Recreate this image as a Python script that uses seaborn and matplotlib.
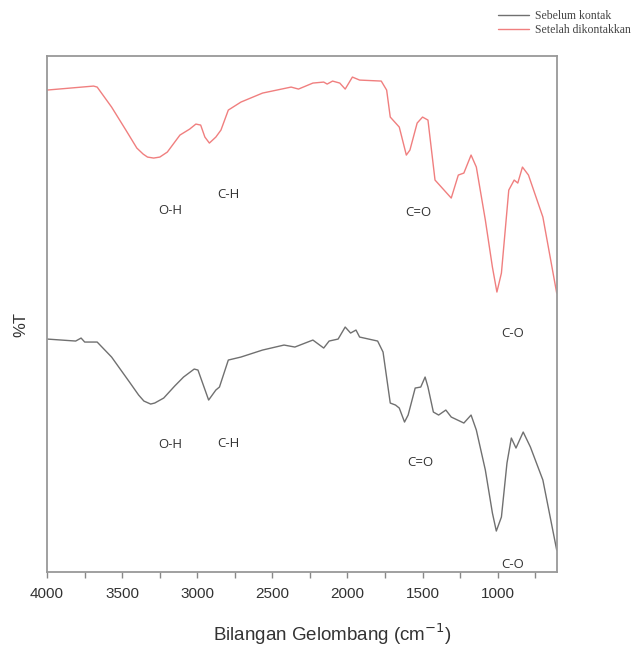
import numpy as np
import pandas as pd
import matplotlib
matplotlib.use("Agg")
import matplotlib.pyplot as plt
import seaborn as sns

# wavenumbers (cm-1) and %T (arbitrary offset units)
wn_after = [4000, 3690, 3666, 3570, 3475, 3402, 3360, 3331, 3290, 3249, 3199, 3115,
            3050, 3009, 2977, 2949, 2919, 2876, 2842, 2793, 2709, 2565, 2375, 2326,
            2230, 2158, 2135, 2099, 2051, 2015, 1967, 1919, 1775, 1739, 1715, 1655,
            1608, 1584, 1536, 1500, 1464, 1417, 1369, 1309, 1262, 1225, 1177, 1142,
            1082, 1035, 1005, 975, 926, 890, 866, 835, 795, 699, 607]
t_after = [482, 486, 485, 465, 442, 424, 418, 415, 414, 415, 420, 437,
           443, 448, 447, 435, 429, 435, 442, 462, 470, 479, 485, 483,
           489, 490, 488, 491, 489, 483, 495, 492, 491, 482, 455, 445,
           417, 422, 449, 455, 452, 392, 384, 374, 397, 399, 417, 405,
           352, 305, 280, 299, 382, 392, 389, 405, 397, 355, 279]

wn_before = [4000, 3809, 3773, 3749, 3666, 3570, 3451, 3390, 3355, 3310, 3283, 3223,
             3150, 3091, 3020, 2995, 2924, 2876, 2852, 2793, 2709, 2565, 2422, 2350,
             2230, 2158, 2122, 2062, 2015, 1979, 1943, 1919, 1799, 1763, 1715, 1680,
             1655, 1620, 1596, 1549, 1512, 1483, 1464, 1428, 1393, 1345, 1309, 1225,
             1177, 1142, 1082, 1035, 1009, 975, 938, 909, 878, 830, 782, 699, 607]
t_before = [233, 231, 234, 230, 230, 215, 190, 177, 171, 168, 169, 174,
            186, 195, 203, 202, 172, 182, 185, 212, 215, 222, 227, 225,
            232, 224, 231, 233, 245, 239, 242, 235, 231, 220, 169, 167,
            164, 150, 157, 184, 185, 195, 185, 160, 157, 162, 155, 149,
            157, 142, 102, 59, 41, 55, 109, 134, 124, 140, 125, 92, 22]

series_names = ["Sebelum kontak", "Setelah dikontakkan"]
series_colors = ["#707070", "#f07f7f"]

# peak labels: (text, wavenumber, %T)
labels_after = [("O-H", 3181, 362), ("C-H", 2794, 378), ("C=O", 1529, 360), ("C-O", 902, 239)]
labels_before = [("O-H", 3181, 128), ("C-H", 2794, 129), ("C=O", 1512, 110), ("C-O", 902, 8)]

df = pd.concat([
    pd.DataFrame({"wn": wn_before, "T": t_before, "sampel": series_names[0]}),
    pd.DataFrame({"wn": wn_after, "T": t_after, "sampel": series_names[1]}),
])

sns.set_style("white")
plt.rcParams["font.family"] = ["Liberation Sans", "DejaVu Sans"]

fig = plt.figure(figsize=(6.42, 6.49), dpi=100)
ax = fig.add_axes([0.0732, 0.1186, 0.7944, 0.795])

sns.lineplot(data=df, x="wn", y="T", hue="sampel", palette=series_colors,
             hue_order=series_names, sort=False, estimator=None, linewidth=1.0, ax=ax)

for txt, x, y in labels_after + labels_before:
    ax.text(x, y, txt, ha="center", va="center", fontsize=9.5, color="#333333",
            family=["Open Sans", "DejaVu Sans"])

ax.set_xlim(4000, 605)
ax.set_ylim(0, 516)
ax.set_xticks([4000, 3500, 3000, 2500, 2000, 1500, 1000])
ax.set_xticks([3750, 3250, 2750, 2250, 1750, 1250, 750], minor=True)
ax.set_yticks([])
ax.tick_params(axis="x", which="both", direction="out", length=4, width=1,
               color="#888888", labelsize=11, labelcolor="#333333", bottom=True, pad=7)
for s in ax.spines.values():
    s.set_color("#999999")
    s.set_linewidth(1.3)

ax.set_xlabel("Bilangan Gelombang (cm$^{-1}$)", fontsize=13.5, color="#333333")
ax.xaxis.set_label_coords(0.559, -0.095)
ax.set_ylabel("%T", fontsize=12, color="#333333")
ax.yaxis.set_label_coords(-0.036, 0.48)

handles, labs = ax.get_legend_handles_labels()
ax.legend(handles, labs, loc="upper left", bbox_to_anchor=(0.765, 0.996),
          bbox_transform=fig.transFigure, frameon=False, handlelength=2.6,
          handletextpad=0.5, labelspacing=0.2, borderaxespad=0.2,
          prop={"family": ["Liberation Serif", "DejaVu Serif"], "size": 8.5})
for t in ax.get_legend().get_texts():
    t.set_color("#444444")

fig.savefig("out.png", dpi=100)
